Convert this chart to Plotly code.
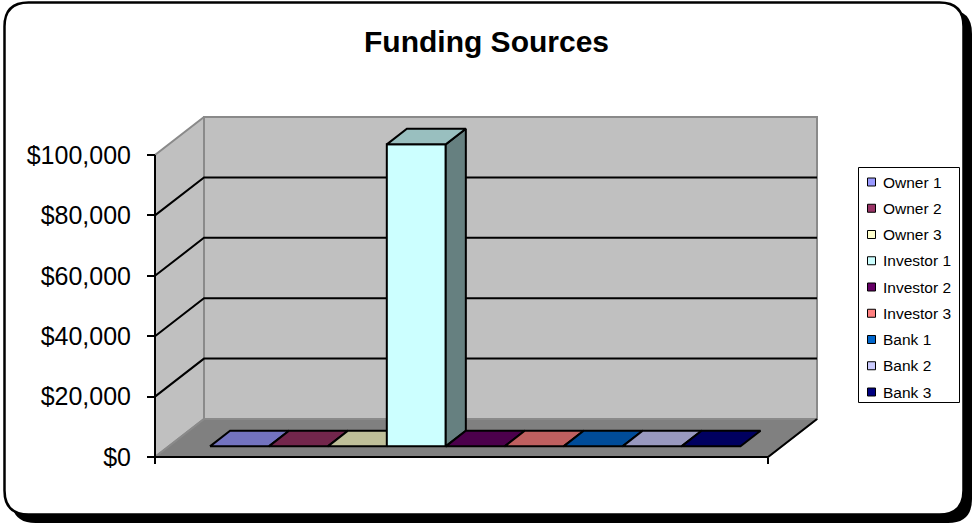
import plotly.graph_objects as go

# ---- data -------------------------------------------------------------
series = ["Owner 1", "Owner 2", "Owner 3", "Investor 1", "Investor 2",
          "Investor 3", "Bank 1", "Bank 2", "Bank 3"]
values = [0, 0, 0, 100000, 0, 0, 0, 0, 0]
colors = ["#9999FF", "#993366", "#FFFFCC", "#CCFFFF", "#660066",
          "#FF8080", "#0066CC", "#CCCCFF", "#000080"]
y_ticks = [0, 20000, 40000, 60000, 80000, 100000]
y_tick_labels = ["$0", "$20,000", "$40,000", "$60,000", "$80,000", "$100,000"]
title = "Funding Sources"

# ---- layout geometry (pixels) ------------------------------------------
W, H = 974, 525
FRONT_X0, FRONT_X1 = 155, 768       # front edge of the floor
FRONT_Y0, FRONT_YMAX = 457, 155     # value 0 and value max on the front plane
DEPTH_DX, DEPTH_DY = 49, 38         # oblique offset of the full depth
VMAX = y_ticks[-1]

px_per_u = FRONT_X1 - FRONT_X0
px_per_v = (FRONT_Y0 - FRONT_YMAX) / VMAX
x_range = [-FRONT_X0 / px_per_u, (W - FRONT_X0) / px_per_u]
y_range = [-(H - FRONT_Y0) / px_per_v, VMAX + FRONT_YMAX / px_per_v]
du = DEPTH_DX / px_per_u
dv = DEPTH_DY / px_per_v

GAP = 1.4                            # gap between cluster and walls, in bar widths
BAR_F0, BAR_F1 = 0.28, 0.69          # bar depth span, as fraction of floor depth
bar_w = 1.0 / (len(series) + GAP)
bar_start = (1.0 - len(series) * bar_w) / 2

WALL = "#C0C0C0"
FLOOR = "#808080"
EDGE = "#8A8A8A"
FONT = "Liberation Sans, Arial, sans-serif"


def proj(u, v, f):
    """Oblique projection of a point at depth fraction f."""
    return u + f * du, v + f * dv


def shade(hex_color, k):
    h = hex_color.lstrip("#")
    r, g, b = (int(h[i:i + 2], 16) for i in (0, 2, 4))
    return "rgb({},{},{})".format(round(r * k), round(g * k), round(b * k))


fig = go.Figure()


def poly(points, fill, line_color, line_width):
    xs = [p[0] for p in points] + [points[0][0]]
    ys = [p[1] for p in points] + [points[0][1]]
    fig.add_trace(go.Scatter(
        x=xs, y=ys, mode="lines", fill="toself", fillcolor=fill,
        line=dict(color=line_color, width=line_width),
        hoverinfo="skip", showlegend=False))


def lines(segments, color, width):
    xs, ys = [], []
    for seg in segments:
        for p in seg:
            xs.append(p[0])
            ys.append(p[1])
        xs.append(None)
        ys.append(None)
    fig.add_trace(go.Scatter(
        x=xs, y=ys, mode="lines", line=dict(color=color, width=width),
        hoverinfo="skip", showlegend=False))


# walls and floor
poly([proj(0, 0, 0), proj(0, VMAX, 0), proj(0, VMAX, 1), proj(0, 0, 1)],
     WALL, EDGE, 2)
poly([proj(0, 0, 1), proj(0, VMAX, 1), proj(1, VMAX, 1), proj(1, 0, 1)],
     WALL, EDGE, 2)
poly([proj(0, 0, 0), proj(1, 0, 0), proj(1, 0, 1), proj(0, 0, 1)],
     FLOOR, EDGE, 2)

# major gridlines on side and back walls
lines([[proj(0, v, 0), proj(0, v, 1), proj(1, v, 1)] for v in y_ticks[1:-1]],
      "black", 2)

# value axis line, category axis line and floor's right edge
lines([[proj(0, 0, 0), proj(0, VMAX, 0)],
       [proj(0, 0, 0), proj(1, 0, 0), proj(1, 0, 1)]], "black", 2)

# bars, one per series
for i, (val, col) in enumerate(zip(values, colors)):
    xl = bar_start + i * bar_w
    xr = xl + bar_w
    if val > 0:
        poly([proj(xl, 0, BAR_F0), proj(xr, 0, BAR_F0),
              proj(xr, val, BAR_F0), proj(xl, val, BAR_F0)], col, "black", 2)
        poly([proj(xr, 0, BAR_F0), proj(xr, 0, BAR_F1),
              proj(xr, val, BAR_F1), proj(xr, val, BAR_F0)],
             shade(col, 0.5), "black", 2)
    poly([proj(xl, val, BAR_F0), proj(xr, val, BAR_F0),
          proj(xr, val, BAR_F1), proj(xl, val, BAR_F1)],
         shade(col, 0.75), "black", 2)


# ---- chart frame, title and legend (paper coordinates) -----------------
def px(x):
    return x / W


def py(y):
    return 1 - y / H


def rounded_rect(x0, y0, x1, y1, r):
    pts = [("M", x0 + r, y0), ("L", x1 - r, y0),
           ("Q", x1, y0, x1, y0 + r), ("L", x1, y1 - r),
           ("Q", x1, y1, x1 - r, y1), ("L", x0 + r, y1),
           ("Q", x0, y1, x0, y1 - r), ("L", x0, y0 + r),
           ("Q", x0, y0, x0 + r, y0)]
    out = []
    for p in pts:
        cmd, coords = p[0], p[1:]
        conv = []
        for j in range(0, len(coords), 2):
            conv.append("{:.5f},{:.5f}".format(px(coords[j]), py(coords[j + 1])))
        out.append(cmd + " " + " ".join(conv))
    return " ".join(out) + " Z"


shapes = [
    dict(type="path", xref="paper", yref="paper", layer="below",
         path=rounded_rect(11.5, 9.5, 972, 523, 24),
         fillcolor="black", line=dict(width=0)),
    dict(type="path", xref="paper", yref="paper", layer="below",
         path=rounded_rect(4.5, 2.5, 963.5, 514.5, 24),
         fillcolor="white", line=dict(color="black", width=2.5)),
]

LEG_X0, LEG_X1, LEG_Y0, LEG_Y1 = 858.5, 959.5, 167.5, 402.5
LEG_FIRST, LEG_STEP = 182, 26.25
shapes.append(dict(type="rect", xref="paper", yref="paper", layer="above",
                   x0=px(LEG_X0), x1=px(LEG_X1), y0=py(LEG_Y0), y1=py(LEG_Y1),
                   fillcolor="rgba(0,0,0,0)", line=dict(color="black", width=1)))

annotations = [dict(text="<b>{}</b>".format(title), xref="paper", yref="paper",
                    x=px(486), y=py(42), xanchor="center", yanchor="middle",
                    showarrow=False, font=dict(family=FONT, size=30, color="black"))]

for i, (name, col) in enumerate(zip(series, colors)):
    yc = LEG_FIRST + i * LEG_STEP
    shapes.append(dict(type="rect", xref="paper", yref="paper", layer="above",
                       x0=px(867.5), x1=px(875.5), y0=py(yc - 4), y1=py(yc + 4),
                       fillcolor=col, line=dict(color="black", width=1)))
    annotations.append(dict(text=name, xref="paper", yref="paper",
                            x=px(881), y=py(yc), xanchor="left", yanchor="middle",
                            showarrow=False,
                            font=dict(family=FONT, size=15.5, color="black")))

x_axis_pos = (0 - y_range[0]) / (y_range[1] - y_range[0])

fig.update_layout(
    width=W, height=H,
    margin=dict(l=0, r=0, t=0, b=0),
    paper_bgcolor="white",
    plot_bgcolor="rgba(0,0,0,0)",
    showlegend=False,
    shapes=shapes,
    annotations=annotations,
    xaxis=dict(range=x_range, domain=[0, 1], showgrid=False, zeroline=False,
               showline=False, tickvals=[0, 1], ticks="outside", ticklen=6,
               tickwidth=2, tickcolor="black", showticklabels=False,
               anchor="free", position=x_axis_pos, fixedrange=True),
    yaxis=dict(range=y_range, domain=[0, 1], showgrid=False, zeroline=False,
               showline=False, tickvals=y_ticks, ticktext=y_tick_labels,
               ticks="outside", ticklen=8, tickwidth=2, tickcolor="black",
               tickfont=dict(family=FONT, size=25, color="black"),
               ticklabelstandoff=11, anchor="free", position=FRONT_X0 / W,
               side="left", fixedrange=True),
)

fig.write_html("out.html")
